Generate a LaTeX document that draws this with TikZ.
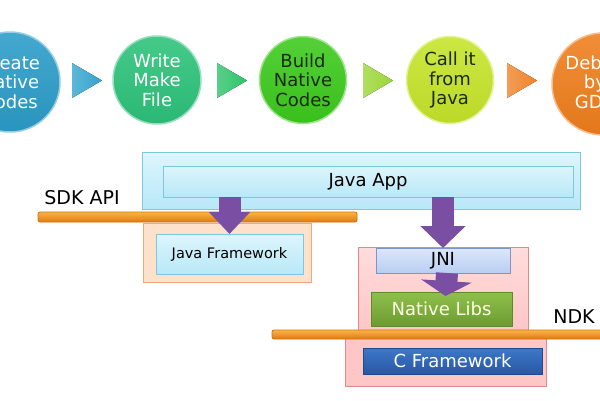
\documentclass[tikz,border=0pt]{standalone}
\usepackage{fontspec}
\setmainfont{DejaVu Sans}
\usetikzlibrary{arrows.meta}
\definecolor{cA}{HTML}{2B9CC8}
\definecolor{cB}{HTML}{2CC27A}
\definecolor{cC}{HTML}{3CCA1C}
\definecolor{cD}{HTML}{C6E42A}
\definecolor{cE}{HTML}{EF7E1C}
\definecolor{tA}{HTML}{35A4CE}
\definecolor{tB}{HTML}{2EC46A}
\definecolor{tC}{HTML}{9CD638}
\definecolor{tD}{HTML}{F0842A}
\definecolor{darktxt}{HTML}{1C2A10}
\definecolor{purp}{HTML}{7A4FA3}
\definecolor{cyTop}{HTML}{DDF5FC}
\definecolor{cyBot}{HTML}{B8E8F7}
\definecolor{cyLine}{HTML}{7CC8DE}
\definecolor{orTop}{HTML}{FBB442}
\definecolor{orBot}{HTML}{E07A12}
\definecolor{orLine}{HTML}{D47010}
\definecolor{pchFill}{HTML}{FDE1CA}
\definecolor{pchLine}{HTML}{F2A878}
\definecolor{pkTop}{HTML}{FFDCDC}
\definecolor{pkBot}{HTML}{FFC6C6}
\definecolor{pkLine}{HTML}{E08A8A}
\definecolor{jnTop}{HTML}{DCE7FB}
\definecolor{jnBot}{HTML}{B9CEF2}
\definecolor{jnLine}{HTML}{7A96CC}
\definecolor{nlTop}{HTML}{8FC04C}
\definecolor{nlBot}{HTML}{6C9C30}
\definecolor{nlLine}{HTML}{5E8A2A}
\definecolor{cfTop}{HTML}{3C78C6}
\definecolor{cfBot}{HTML}{2858A6}
\definecolor{cfLine}{HTML}{1F4A90}
\begin{document}
\begin{tikzpicture}[x=1pt,y=-1pt,
  ball/.style={circle,inner sep=0pt,outer sep=0pt,minimum size=#1,line width=1.5pt},
  balltext/.style={align=center,font=\fontsize{18}{19.5}\selectfont,inner sep=0pt},
  rbox/.style={rectangle,inner sep=0pt,outer sep=0pt,anchor=north west,line width=0.8pt},
  cybox/.style={rbox,top color=cyTop,bottom color=cyBot,draw=cyLine},
  bar/.style={rbox,top color=orTop,bottom color=orBot,draw=orLine,rounded corners=2pt},
  boxtext/.style={font=\fontsize{18}{20}\selectfont},
  pblock/.style={draw=purp,line width=22pt,-{Triangle[width=#1,length=22pt]}},
]
\useasboundingbox (0,0) rectangle (600,400);
\fill[white] (0,0) rectangle (600,400);

% ---- top process ----
\node[ball=100pt,top color=cA!88!white,bottom color=cA!95!black,draw=cA!50!white] (c1) at (10,82) {};
\node[ball=88pt,top color=cB!88!white,bottom color=cB!95!black,draw=cB!50!white] (c2) at (157,80) {};
\node[ball=87pt,top color=cC!88!white,bottom color=cC!95!black,draw=cC!50!white] (c3) at (303,80) {};
\node[ball=87pt,top color=cD!88!white,bottom color=cD!95!black,draw=cD!50!white] (c4) at (450,80) {};
\node[ball=102pt,top color=cE!88!white,bottom color=cE!95!black,draw=cE!50!white] (c5) at (603,84) {};

\node[balltext,text=white] (t1) at (c1) {Create\\Native\\Codes};
\node[balltext,text=white] (t2) at (c2) {Write\\Make\\File};
\node[balltext,text=darktxt] (t3) at (c3) {Build\\Native\\Codes};
\node[balltext,text=darktxt] (t4) at (c4) {Call it\\from\\Java};
\node[balltext,text=white] (t5) at (595,82) {Debug\\by\\GDB};

\fill[left color=tA!80!white,right color=tA] (72,63) -- (102,80.5) -- (72,98) -- cycle;
\fill[left color=tB!80!white,right color=tB] (217,63) -- (247,80.5) -- (217,98) -- cycle;
\fill[left color=tC!80!white,right color=tC] (363,63) -- (393,80.5) -- (363,98) -- cycle;
\fill[left color=tD!80!white,right color=tD] (507,63) -- (537,80.5) -- (507,98) -- cycle;

% ---- architecture ----
\node[cybox,minimum width=438pt,minimum height=57pt] (appouter) at (142,152) {};
\node[cybox,minimum width=410pt,minimum height=31pt] (app) at (163,166) {};
\node[boxtext] at (app.center) {Java App};

\node[bar,minimum width=319pt,minimum height=10pt] (sdkbar) at (38,212) {};
\node[font=\fontsize{19}{22}\selectfont] (sdk) at (82,198) {SDK API};

\node[rbox,fill=pchFill,draw=pchLine,minimum width=168pt,minimum height=59pt] (jfouter) at (143,223) {};
\node[cybox,minimum width=147pt,minimum height=40pt] (jframe) at (156,234) {};
\node[font=\fontsize{14.5}{16}\selectfont] at (jframe.center) {Java Framework};

\node[rbox,top color=pkTop,bottom color=pkBot,draw=pkLine,minimum width=170pt,minimum height=84pt] (pinkup) at (358,247) {};
\node[rbox,top color=pkBot,bottom color=pkBot,draw=pkLine,minimum width=201pt,minimum height=48pt] (pinklow) at (345,338) {};

\node[rbox,top color=jnTop,bottom color=jnBot,draw=jnLine,minimum width=134pt,minimum height=25pt] (jni) at (376,248) {};
\node[boxtext] at (jni.center) {JNI};

\node[rbox,top color=nlTop,bottom color=nlBot,draw=nlLine,minimum width=141pt,minimum height=34pt] (nlibs) at (371,292) {};
\node[boxtext,text=yellow!10!white] at (nlibs.center) {Native Libs};

\node[bar,minimum width=340pt,minimum height=9pt] (ndkbar) at (272,330) {};
\node[font=\fontsize{19}{22}\selectfont] (ndk) at (574,317) {NDK};

\node[rbox,top color=cfTop,bottom color=cfBot,draw=cfLine,minimum width=179pt,minimum height=26pt] (cframe) at (363,348) {};
\node[boxtext,text=white] at (cframe.center) {C Framework};

% ---- purple block arrows ----
\draw[pblock=40pt] (jframe.north |- app.south) -- (jframe.north);
\draw[pblock=44pt] (jni.north |- app.south) -- (jni.north);
\draw[draw=purp,line width=22pt,-{Triangle[width=50pt,length=15pt]}] ([xshift=4pt]jni.south) -- ([xshift=4pt,yshift=-4pt]nlibs.north);
\end{tikzpicture}
\end{document}
